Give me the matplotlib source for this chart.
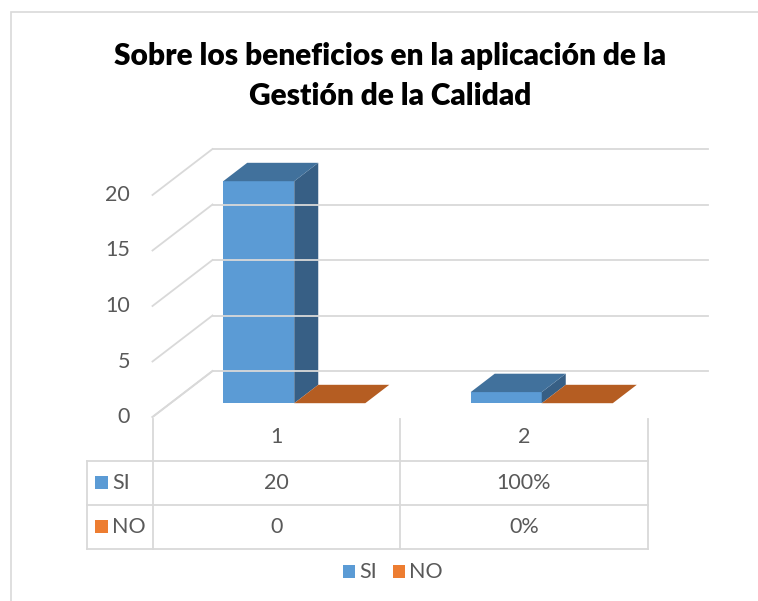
import matplotlib
matplotlib.use("Agg")
from matplotlib import pyplot as plt
from matplotlib.patches import Polygon, Rectangle
import numpy as np

plt.rcParams['font.family'] = ['Lato', 'DejaVu Sans']

title = "Sobre los beneficios en la aplicación de la\nGestión de la Calidad"
categories = ["1", "2"]
series = ["SI", "NO"]
si_values = [20, 1]
no_values = [0, 0]
si_labels = ["20", "100%"]
no_labels = ["0", "0%"]
yticks = [0, 5, 10, 15, 20]

W, H = 758, 601
grid_c = '#d9d9d9'
text_c = '#595959'
colors = {'SI': ('#5b9bd5', '#41719c', '#375f85'),
          'NO': ('#ed7d31', '#b55d22', '#9c4f1c')}
legend_c = {'SI': '#5b9bd5', 'NO': '#ed7d31'}

# pixel geometry of the front plane: x=0 -> px 152.5, one category = 247.5 px
# y=0 -> px 417, one unit = 11.1 px
px0, pxc = 152.5, 247.5
py0, pyu = 417.0, 11.1
xlim = (-0.6, 2.4)
ylim = (-14.0, 26.0)

fig = plt.figure(figsize=(W / 100, H / 100), dpi=100)
left = (px0 + xlim[0] * pxc) / W
right = (px0 + xlim[1] * pxc) / W
bottom = 1 - (py0 - ylim[0] * pyu) / H
top = 1 - (py0 - ylim[1] * pyu) / H
ax = fig.add_axes([left, bottom, right - left, top - bottom])
ax.set_xlim(*xlim)
ax.set_ylim(*ylim)
ax.axis('off')

# outer chart border (right and bottom edges fall outside the image)
fig.add_artist(Rectangle((11 / W, -0.05), 1.1, 1 - 12 / H + 0.05, transform=fig.transFigure,
                         fill=False, ec=grid_c, lw=1.2))

# depth offset of the back wall (in data units)
DX = 60 / pxc
DY = 46 / pyu
ncat = len(categories)

# gridlines: side wall diagonals + back wall horizontals
for v in yticks:
    ax.plot([0, DX], [v, v + DY], color=grid_c, lw=1.3)
    ax.plot([DX, ncat + DX], [v + DY, v + DY], color=grid_c, lw=1.3)
    ax.text(-0.091, v, str(v), ha='right', va='center', fontsize=15.5, color=text_c)


def bar3d(x0, w, h, d0, d1, cols):
    front, topc, side = cols
    ox0, oy0 = DX * d0, DY * d0
    ox1, oy1 = DX * d1, DY * d1
    xa, xb = x0 + ox0, x0 + w + ox0
    ya, yb = oy0, h + oy0
    # front
    ax.add_patch(Polygon([(xa, ya), (xb, ya), (xb, yb), (xa, yb)], closed=True,
                         fc=front, ec='none'))
    # side
    ax.add_patch(Polygon([(xb, ya), (x0 + w + ox1, oy1), (x0 + w + ox1, h + oy1), (xb, yb)],
                         closed=True, fc=side, ec='none'))
    # top
    ax.add_patch(Polygon([(xa, yb), (xb, yb), (x0 + w + ox1, h + oy1), (x0 + ox1, h + oy1)],
                         closed=True, fc=topc, ec='none'))


bw = 0.287
gap = (1 - 2 * bw) / 2
for i in range(ncat):
    bar3d(i + gap, bw, si_values[i], 0.3, 0.7, colors['SI'])
    bar3d(i + gap + bw, bw, no_values[i], 0.3, 0.7, colors['NO'])

# data table
row_h = 44 / pyu
tab_left = (87 - px0) / pxc
ax.plot([0, DX], [0, DY], color=grid_c, lw=1.3)
for i in range(ncat + 1):
    ax.plot([i, i], [-0.2, -3 * row_h], color=grid_c, lw=1.3, clip_on=False)
ax.plot([tab_left, tab_left], [-row_h, -3 * row_h], color=grid_c, lw=1.3)
for r in (1, 2, 3):
    ax.plot([tab_left, ncat], [-r * row_h, -r * row_h], color=grid_c, lw=1.3)
for i, c in enumerate(categories):
    ax.text(i + 0.5, -0.45 * row_h, c, ha='center', va='center', fontsize=15.5, color=text_c)
rows = [("SI", si_labels), ("NO", no_labels)]
for r, (name, labels) in enumerate(rows):
    yc = -(r + 1.5) * row_h
    ax.add_patch(Rectangle((tab_left + 8 / pxc, yc - 6 / pyu), 13 / pxc, 13 / pyu,
                           fc=legend_c[name], ec='none'))
    ax.text(tab_left + 25 / pxc, yc, name, ha='left', va='center', fontsize=15.5, color=text_c)
    for i, lab in enumerate(labels):
        ax.text(i + 0.5, yc, lab, ha='center', va='center', fontsize=15.5, color=text_c)

# legend
ly = 1 - 572 / H
for name, lx in (("SI", 343), ("NO", 393)):
    fig.add_artist(Rectangle((lx / W, ly - 6 / H), 12 / W, 13 / H, transform=fig.transFigure,
                             fc=legend_c[name], ec='none'))
    fig.text((lx + 16) / W, ly, name, ha='left', va='center', fontsize=15.5, color=text_c)

fig.text(390 / W, 1 - 76 / H, title, ha='center', va='center', fontsize=21.5,
         fontweight='heavy', color='black', linespacing=1.5)

fig.savefig('out.png', dpi=100)
